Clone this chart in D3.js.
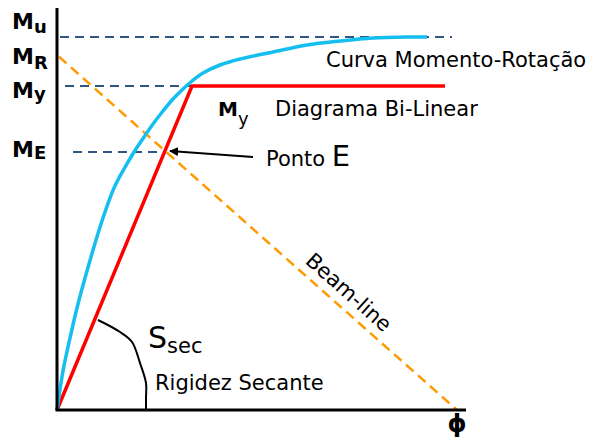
<!DOCTYPE html>
<html>
<head>
<meta charset="utf-8">
<script src="https://cdn.jsdelivr.net/npm/d3@7"></script>
<style>
  body { margin: 0; background: #fff; }
  text { font-family: "DejaVu Sans", Verdana, sans-serif; fill: #000; }
</style>
</head>
<body>
<svg id="chart"></svg>
<script>
// moment levels (arbitrary units, 0..100) and rotation phi (0..100)
let levelNames = ["u", "R", "y", "E"];
let levelValues = [93.25, 88.3, 81, 64.5];

// dashed reference lines: [level, phi start, phi end]
let refLevels = [93.25, 81, 64.5];
let refStart = [0.75, 2, 4];
let refEnd = [98.75, 33.75, 27];

// moment-rotation curve
let curvePhi = [0, 0.25, 1.5, 3.25, 5.25, 7.5, 9.75, 12, 14.25, 16.75, 19.25, 21.75, 24, 26.5, 29, 31.5, 33.75, 36.5, 40.75, 45.75, 54, 62.5, 70.75, 79, 87.5, 92.5];
let curveM = [0, 1.75, 9.75, 18, 26.5, 34.75, 42.5, 49.5, 55.5, 60.25, 64.5, 68.25, 71.5, 74.75, 77.75, 80.25, 82.25, 84.25, 86.25, 87.75, 89.5, 91.25, 92.25, 93, 93.25, 93.25];

// bilinear diagram
let bilinPhi = [0, 33.75, 97];
let bilinM = [0, 81, 81];

// beam-line
let beamPhi = [0.5, 100];
let beamM = [88.3, 0];

// arrow to point E
let arrowPhi = [49, 28.25];
let arrowM = [63.25, 64.75];

// secant stiffness arc
let arcPhi = [10.25, 15.75, 18.75, 20.75, 22.25, 22.25, 22.25];
let arcM = [22.5, 19.5, 17, 11.75, 6.75, 3, 0];

function draw() {
  let w = 591, h = 438;
  let svg = d3.select("#chart").attr("width", w).attr("height", h);

  let x = d3.scaleLinear().domain([0, 100]).range([57, 457]);
  let y = d3.scaleLinear().domain([0, 100]).range([410, 10]);

  let line = d3.line().x(d => x(d[0])).y(d => y(d[1]));

  // dashed level lines
  svg.selectAll(".ref")
    .data(refLevels)
    .enter()
    .append("line")
    .attr("x1", (d, i) => x(refStart[i]))
    .attr("x2", (d, i) => x(refEnd[i]))
    .attr("y1", d => y(d))
    .attr("y2", d => y(d))
    .attr("stroke", "#2f5681")
    .attr("stroke-width", 2)
    .attr("stroke-dasharray", "9,6");

  // beam-line
  svg.append("path")
    .attr("d", line(d3.zip(beamPhi, beamM)))
    .attr("fill", "none")
    .attr("stroke", "#ff9a00")
    .attr("stroke-width", 2.5)
    .attr("stroke-dasharray", "10,6");

  // bilinear
  svg.append("path")
    .attr("d", line(d3.zip(bilinPhi, bilinM)))
    .attr("fill", "none")
    .attr("stroke", "#ff0000")
    .attr("stroke-width", 3.5)
    .attr("stroke-linejoin", "miter");

  // moment-rotation curve
  svg.append("path")
    .attr("d", line.curve(d3.curveCatmullRom)(d3.zip(curvePhi, curveM)))
    .attr("fill", "none")
    .attr("stroke", "#14bff0")
    .attr("stroke-width", 3.5);
  line.curve(d3.curveLinear);

  // axes
  svg.append("line")
    .attr("x1", x(0)).attr("x2", x(0))
    .attr("y1", 8).attr("y2", y(0))
    .attr("stroke", "#000").attr("stroke-width", 3);
  svg.append("line")
    .attr("x1", x(0) - 1.5).attr("x2", 466)
    .attr("y1", y(0)).attr("y2", y(0))
    .attr("stroke", "#000").attr("stroke-width", 3);

  // arrow
  svg.append("defs").append("marker")
    .attr("id", "head")
    .attr("viewBox", "0 0 10 10")
    .attr("refX", 9).attr("refY", 5)
    .attr("markerWidth", 4.5).attr("markerHeight", 4.5)
    .attr("orient", "auto")
    .append("path")
    .attr("d", "M0,0L10,5L0,10z")
    .attr("fill", "#000");
  svg.append("path")
    .attr("d", line(d3.zip(arrowPhi, arrowM)))
    .attr("stroke", "#000")
    .attr("stroke-width", 2)
    .attr("marker-end", "url(#head)");

  // secant arc
  svg.append("path")
    .attr("d", line.curve(d3.curveCatmullRom)(d3.zip(arcPhi, arcM)))
    .attr("fill", "none")
    .attr("stroke", "#000")
    .attr("stroke-width", 2);
  line.curve(d3.curveLinear);

  // left M labels
  let labelY = [29, 64, 98, 157];
  let subDy = [4, 5, 2, 2];
  let lab = svg.selectAll(".mlab")
    .data(levelNames)
    .enter()
    .append("text")
    .attr("x", 12)
    .attr("y", (d, i) => labelY[i])
    .style("font-weight", "bold")
    .style("font-size", "22px");
  lab.append("tspan").text("M");
  lab.append("tspan")
    .attr("dy", (d, i) => subDy[i])
    .style("font-size", "18px")
    .text(d => d);

  // phi
  svg.append("text")
    .attr("x", x(100)).attr("y", 432)
    .attr("text-anchor", "middle")
    .style("font-weight", "bold")
    .style("font-size", "24px")
    .text("\u03D5");

  // annotations
  svg.append("text")
    .attr("x", 326).attr("y", 67)
    .style("font-size", "21px")
    .text("Curva Momento-Rotação");

  let my = svg.append("text")
    .attr("x", 218).attr("y", 116);
  my.append("tspan").style("font-weight", "bold").style("font-size", "20px").text("M");
  my.append("tspan").attr("dy", 9).style("font-size", "18px").text("y");

  svg.append("text")
    .attr("x", 275).attr("y", 116)
    .style("font-size", "21px")
    .text("Diagrama Bi-Linear");

  let pe = svg.append("text")
    .attr("x", 266).attr("y", 166)
    .style("font-size", "21px");
  pe.append("tspan").text("Ponto ");
  pe.append("tspan").style("font-size", "29px").text("E");

  let ss = svg.append("text")
    .attr("x", 148).attr("y", 348)
    .style("font-size", "30px");
  ss.append("tspan").text("S");
  ss.append("tspan").attr("dy", 5).style("font-size", "21px").text("sec");

  svg.append("text")
    .attr("x", 155).attr("y", 390)
    .style("font-size", "21px")
    .text("Rigidez Secante");

  // beam-line label along the line
  let ang = Math.atan2(y(beamM[1]) - y(beamM[0]), x(beamPhi[1]) - x(beamPhi[0])) * 180 / Math.PI;
  let bx = x(70.25), by = y(beamM[0] + (70.25 - beamPhi[0]) * (beamM[1] - beamM[0]) / (beamPhi[1] - beamPhi[0]));
  svg.append("text")
    .attr("transform", "translate(" + bx + "," + by + ") rotate(" + ang + ")")
    .attr("text-anchor", "middle")
    .attr("dy", -9)
    .style("font-size", "21px")
    .text("Beam-line");
}

window.onload = function() {
  draw();
}
</script>
</body>
</html>
